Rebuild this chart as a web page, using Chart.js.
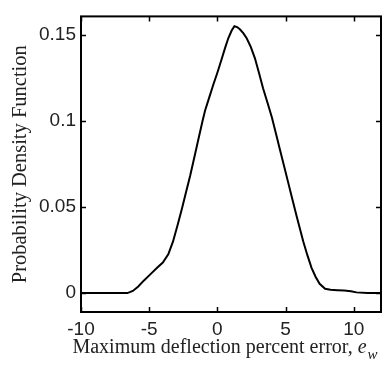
<!DOCTYPE html>
<html lang="en">
<head>
    <meta charset="UTF-8">
    <title>PDF of maximum deflection error</title>
    <script src="https://cdn.jsdelivr.net/npm/chart.js"></script>
    <style>
        html, body { margin: 0; padding: 0; background: #fff; }
        #wrap { width: 387px; height: 371px; }
    </style>
</head>
<body>
<div id="wrap"><canvas id="pdfChart" width="387" height="371"></canvas></div>
<script>
// values
const errX = [-10, -8, -6.6, -6.2, -5.8, -5.4, -4.9, -4.4, -4.0, -3.6, -3.25, -2.9, -2.6, -2.3, -2.0, -1.7, -1.4, -1.1, -0.9, -0.6, -0.3, 0.0, 0.3, 0.55, 0.8, 1.05, 1.25, 1.45, 1.65, 1.9, 2.15, 2.45, 2.75, 3.05, 3.35, 3.7, 4.0, 4.3, 4.6, 4.9, 5.2, 5.5, 5.8, 6.05, 6.3, 6.6, 6.9, 7.2, 7.5, 7.9, 8.3, 8.8, 9.3, 9.8, 10.2, 11, 12];
const pdf  = [0, 0, 0, 0.0012, 0.0038, 0.0072, 0.011, 0.0148, 0.0177, 0.0225, 0.030, 0.040, 0.049, 0.0585, 0.068, 0.0785, 0.089, 0.0995, 0.106, 0.1135, 0.121, 0.128, 0.1355, 0.142, 0.148, 0.1525, 0.155, 0.1545, 0.1532, 0.151, 0.148, 0.143, 0.1365, 0.128, 0.119, 0.110, 0.102, 0.0925, 0.083, 0.0735, 0.064, 0.0545, 0.045, 0.0375, 0.030, 0.022, 0.0148, 0.0095, 0.0054, 0.0025, 0.0019, 0.0017, 0.0015, 0.0011, 0.0004, 0, 0];
const xTicks = [-10, -5, 0, 5, 10];
const yTicks = [0, 0.05, 0.1, 0.15];

const yTitle = 'Probability Density Function';
const xTitle = 'Maximum deflection percent error, ';

const serif = '"Liberation Serif", "Times New Roman", serif';
const sans = '"Liberation Sans", Arial, sans-serif';

// frame with inward ticks on all four sides, like the matlab box
const boxPlugin = {
    id: 'box',
    afterDraw(chart) {
        const ctx = chart.ctx;
        const a = chart.chartArea;
        const xs = chart.scales.x, ys = chart.scales.y;
        ctx.save();
        ctx.strokeStyle = '#000';
        ctx.lineWidth = 2;
        ctx.strokeRect(a.left, a.top, a.right - a.left, a.bottom - a.top);
        ctx.lineWidth = 1.5;
        ctx.beginPath();
        xTicks.forEach(v => {
            const px = Math.round(xs.getPixelForValue(v)) + 0.5;
            ctx.moveTo(px, a.bottom); ctx.lineTo(px, a.bottom - 5);
            ctx.moveTo(px, a.top); ctx.lineTo(px, a.top + 5);
        });
        yTicks.forEach(v => {
            const py = Math.round(ys.getPixelForValue(v)) + 0.5;
            ctx.moveTo(a.left, py); ctx.lineTo(a.left + 5, py);
            ctx.moveTo(a.right, py); ctx.lineTo(a.right - 5, py);
        });
        ctx.stroke();

        // x title with italic e and subscript w
        ctx.fillStyle = '#222';
        ctx.textBaseline = 'alphabetic';
        ctx.font = '20px ' + serif;
        const w1 = ctx.measureText(xTitle).width;
        ctx.font = 'italic 20px ' + serif;
        const we = ctx.measureText('e').width;
        ctx.font = 'italic 15px ' + serif;
        const ww = ctx.measureText('w').width;
        const total = w1 + we + 1 + ww;
        const x0 = (a.left + a.right) / 2 - 6 - total / 2;
        const base = 353;
        ctx.font = '20px ' + serif;
        ctx.fillText(xTitle, x0, base);
        ctx.font = 'italic 20px ' + serif;
        ctx.fillText('e', x0 + w1, base);
        ctx.font = 'italic 15px ' + serif;
        ctx.fillText('w', x0 + w1 + we + 1, base + 6);
        ctx.restore();
    }
};

new Chart(document.getElementById('pdfChart'), {
    type: 'scatter',
    data: {
        datasets: [{
            data: errX.map((x, i) => ({ x: x, y: pdf[i] })),
            showLine: true,
            borderColor: '#000',
            borderWidth: 2,
            pointRadius: 0,
            tension: 0
        }]
    },
    options: {
        responsive: false,
        animation: false,
        events: [],
        layout: { padding: { top: 11, right: 6, left: 0, bottom: 0 } },
        plugins: { legend: { display: false }, tooltip: { enabled: false } },
        scales: {
            x: {
                type: 'linear',
                min: -10,
                max: 12,
                grid: { display: false, drawTicks: false, tickLength: 0 },
                border: { display: false },
                afterBuildTicks: s => { s.ticks = xTicks.map(v => ({ value: v })); },
                afterFit: s => { s.height = 59; },
                ticks: {
                    color: '#222',
                    padding: 6,
                    maxRotation: 0,
                    font: { family: sans, size: 19 },
                    callback: v => String(v)
                }
            },
            y: {
                min: -0.011,
                max: 0.1607,
                grid: { display: false, drawTicks: false, tickLength: 0 },
                border: { display: false },
                afterBuildTicks: s => { s.ticks = yTicks.map(v => ({ value: v })); },
                afterFit: s => { s.width = 81; },
                ticks: {
                    color: '#222',
                    padding: 5,
                    font: { family: sans, size: 19 },
                    callback: v => String(+v.toFixed(3))
                },
                title: {
                    display: true,
                    text: yTitle,
                    color: '#222',
                    padding: { top: 8, bottom: 0 },
                    font: { family: serif, size: 20.5, weight: 'normal' }
                }
            }
        }
    },
    plugins: [boxPlugin]
});
</script>
</body>
</html>
